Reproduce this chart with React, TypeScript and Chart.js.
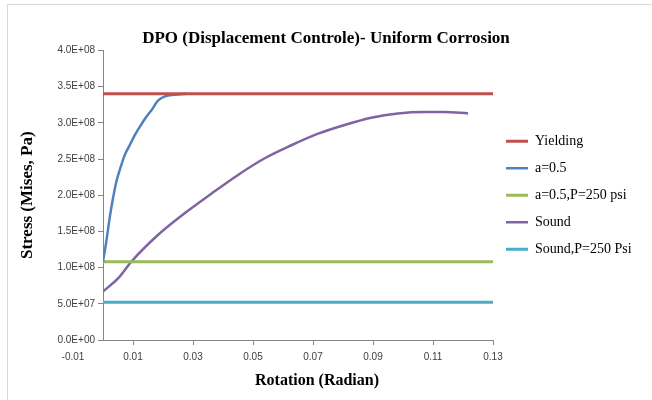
import React, { useEffect, useRef } from "react";
import { Chart, registerables } from "chart.js";

Chart.register(...registerables);

// ---- data ----
const yieldingX = [0, 0.13];
const yieldingY = [3.4e8, 3.4e8];

const a05X = [0, 0.0011, 0.0022, 0.0033, 0.0044, 0.0059, 0.0072, 0.0089, 0.0106, 0.0122, 0.0144, 0.0161, 0.0184, 0.021, 0.025, 0.028];
const a05Y = [1.08e8, 1.36e8, 1.68e8, 1.95e8, 2.18e8, 2.39e8, 2.55e8, 2.69e8, 2.83e8, 2.94e8, 3.08e8, 3.17e8, 3.31e8, 3.37e8, 3.39e8, 3.4e8];

const a05PX = [0, 0.13];
const a05PY = [1.08e8, 1.08e8];

const soundX = [0, 0.005, 0.0094, 0.0183, 0.0272, 0.0361, 0.045, 0.0539, 0.0628, 0.0717, 0.0806, 0.0894, 0.0983, 0.1072, 0.1139, 0.1217];
const soundY = [6.7e7, 8.5e7, 1.08e8, 1.45e8, 1.75e8, 2.02e8, 2.28e8, 2.51e8, 2.69e8, 2.85e8, 2.97e8, 3.07e8, 3.13e8, 3.15e8, 3.15e8, 3.13e8];

const soundPX = [0, 0.13];
const soundPY = [5.2e7, 5.2e7];

const seriesNames = ["Yielding", "a=0.5", "a=0.5,P=250 psi", "Sound", "Sound,P=250 Psi"];
const seriesColors = ["#C0504D", "#4F81BD", "#9BBB59", "#8064A2", "#4BACC6"];

const xTicks = [-0.01, 0.01, 0.03, 0.05, 0.07, 0.09, 0.11, 0.13];
const yTicks = [0, 5e7, 1e8, 1.5e8, 2e8, 2.5e8, 3e8, 3.5e8, 4e8];

const chartTitle = "DPO (Displacement Controle)- Uniform Corrosion";
const xTitle = "Rotation (Radian)";
const yTitle = "Stress (Mises, Pa)";

const toPoints = (xs: number[], ys: number[]) => xs.map((x, i) => ({ x, y: ys[i] }));

const fmtE = (v: number) => {
  const [m, e] = v.toExponential(1).split("e");
  const n = parseInt(e, 10);
  return `${m}E${n < 0 ? "-" : "+"}${String(Math.abs(n)).padStart(2, "0")}`;
};

export default function App() {
  const ref = useRef<HTMLCanvasElement | null>(null);

  useEffect(() => {
    if (!ref.current) return;
    const allX = [yieldingX, a05X, a05PX, soundX, soundPX];
    const allY = [yieldingY, a05Y, a05PY, soundY, soundPY];
    const widths = [3, 2.5, 3, 2.5, 3];

    const legendWidthPlugin = {
      id: "legendWidth",
      afterInit(chart: any) {
        const lg = chart.legend;
        if (!lg) return;
        const f = lg.fit;
        lg.fit = function () {
          f.call(this);
          this.width = 159;
        };
      },
    };

    const xTitlePlugin = {
      id: "xTitle",
      afterDraw(chart: any) {
        const { ctx, chartArea } = chart;
        ctx.save();
        ctx.font = 'bold 16px "Liberation Serif"';
        ctx.fillStyle = "#000";
        ctx.textAlign = "center";
        ctx.textBaseline = "middle";
        ctx.fillText(xTitle, (chartArea.left + chartArea.right) / 2 + 19, 381);
        ctx.restore();
      },
    };

    const chart = new Chart(ref.current, {
      type: "scatter",
      data: {
        datasets: seriesNames.map((name, i) => ({
          label: name,
          data: toPoints(allX[i], allY[i]),
          showLine: true,
          borderColor: seriesColors[i],
          backgroundColor: seriesColors[i],
          borderWidth: widths[i],
          pointRadius: 0,
          pointHoverRadius: 0,
          cubicInterpolationMode: "monotone",
        })),
      },
      options: {
        animation: false,
        responsive: false,
        layout: { padding: 0 },
        plugins: {
          title: {
            display: true,
            text: chartTitle,
            color: "#000",
            font: { family: "Liberation Serif", size: 17, weight: "bold" },
            padding: { top: 28, bottom: 2 },
          },
          legend: {
            position: "right",
            fullSize: false,
            align: "center",
            labels: {
              usePointStyle: true,
              pointStyle: "line",
              pointStyleWidth: 22,
              color: "#000",
              font: { family: "Liberation Serif", size: 14 },
              padding: 13,
            },
          },
          tooltip: { enabled: false },
        },
        scales: {
          x: {
            type: "linear",
            min: 0,
            max: 0.13,
            afterBuildTicks: (scale: any) => {
              scale.ticks = xTicks.map((v) => ({ value: v }));
            },
            afterFit: (scale: any) => {
              scale.height = 60;
            },
            ticks: {
              autoSkip: false,
              maxRotation: 0,
              padding: 6,
              color: "#404040",
              font: { family: "Liberation Sans", size: 10 },
              callback: (v: any) => Number(v).toFixed(2),
            },
            grid: {
              drawOnChartArea: false,
              drawTicks: true,
              tickLength: 5,
              color: (c: any) => (c.tick && c.tick.value < 0 ? "rgba(0,0,0,0)" : "#868686"),
            },
            border: { display: true, color: "#868686", width: 1 },
            title: { display: false },
          },
          y: {
            type: "linear",
            min: 0,
            max: 4e8,
            afterBuildTicks: (scale: any) => {
              scale.ticks = yTicks.map((v) => ({ value: v }));
            },
            afterFit: (scale: any) => {
              scale.width = 103;
            },
            ticks: {
              padding: 3,
              color: "#404040",
              font: { family: "Liberation Sans", size: 10 },
              callback: (v: any) => fmtE(Number(v)),
            },
            grid: {
              drawOnChartArea: false,
              drawTicks: true,
              tickLength: 5,
              color: "#868686",
            },
            border: { display: true, color: "#868686", width: 1 },
            title: {
              display: true,
              text: yTitle,
              color: "#000",
              font: { family: "Liberation Serif", size: 17, weight: "bold" },
              padding: { top: 17, bottom: 0 },
            },
          },
        },
      },
      plugins: [legendWidthPlugin, xTitlePlugin],
    } as any);

    return () => chart.destroy();
  }, []);

  return (
    <div style={{ position: "fixed", left: 0, top: 0, width: 652, height: 400, background: "#fff" }}>
      <canvas ref={ref} width={652} height={400} style={{ position: "absolute", left: 0, top: 0 }} />
      <div
        style={{
          position: "absolute",
          left: 7,
          top: 4,
          width: 650,
          height: 400,
          borderLeft: "1px solid #d9d9d9",
          borderTop: "1px solid #d9d9d9",
          pointerEvents: "none",
        }}
      />
    </div>
  );
}
